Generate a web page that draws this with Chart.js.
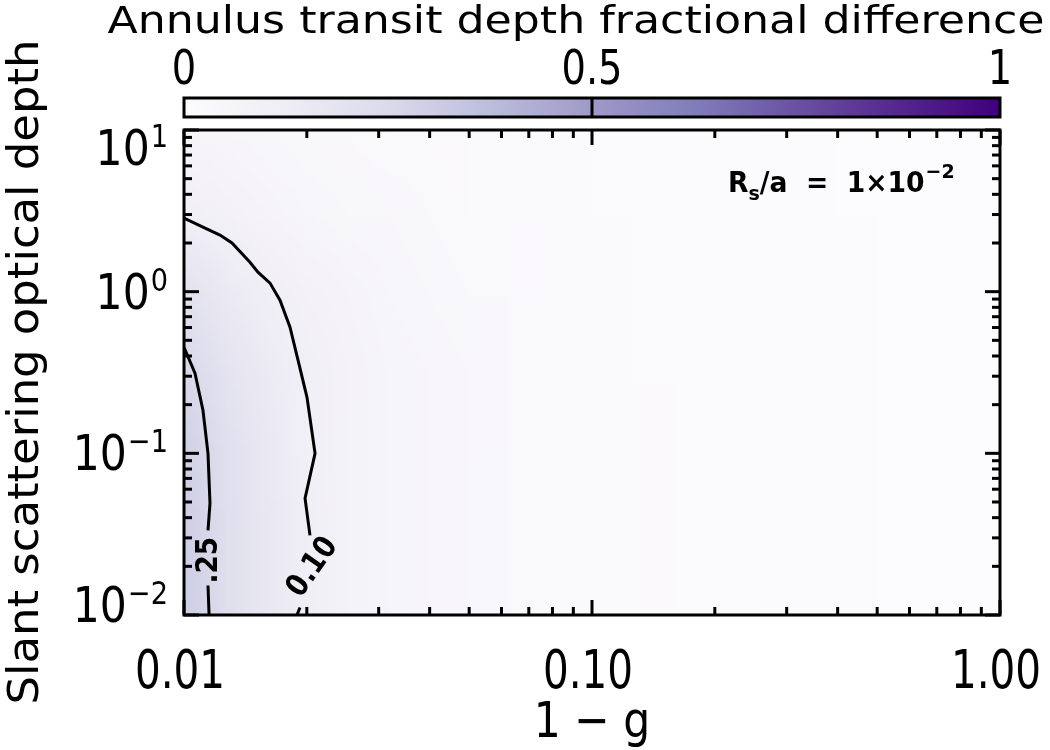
<!DOCTYPE html>
<html>
<head>
<meta charset="utf-8">
<script src="https://cdn.jsdelivr.net/npm/chart.js@4"></script>
<style>
  html, body { margin: 0; padding: 0; background: #fff; }
</style>
</head>
<body>
<canvas id="chart" width="1050" height="750"></canvas>
<script>
// grid of the shaded field (x = 1 - g, y = slant scattering optical depth)
const heatX = [0.01, 0.0126, 0.0158, 0.02, 0.0251, 0.0316, 0.0398, 0.0501, 0.0631, 0.0794, 0.1,
  0.126, 0.158, 0.2, 0.251, 0.316, 0.398, 0.501, 0.631, 0.794, 1.0]
const heatY = [0.01, 0.0316, 0.1, 0.316, 1, 3.16, 10]
// one row per heatY value, bottom to top
const heatZ = [
  [0.30, 0.22, 0.16, 0.105, 0.075, 0.056, 0.043, 0.034, 0.027, 0.021, 0.017, 0.014, 0.011, 0.009, 0.007, 0.006, 0.005, 0.004, 0.003, 0.003, 0.002],
  [0.30, 0.22, 0.16, 0.104, 0.075, 0.056, 0.043, 0.034, 0.027, 0.021, 0.017, 0.014, 0.011, 0.009, 0.007, 0.006, 0.005, 0.004, 0.003, 0.003, 0.002],
  [0.29, 0.215, 0.155, 0.10, 0.073, 0.055, 0.042, 0.033, 0.026, 0.021, 0.017, 0.014, 0.011, 0.009, 0.007, 0.006, 0.005, 0.004, 0.003, 0.003, 0.002],
  [0.26, 0.19, 0.14, 0.095, 0.07, 0.053, 0.041, 0.032, 0.026, 0.021, 0.017, 0.013, 0.011, 0.009, 0.007, 0.006, 0.005, 0.004, 0.003, 0.003, 0.002],
  [0.20, 0.15, 0.105, 0.08, 0.06, 0.046, 0.036, 0.029, 0.023, 0.019, 0.015, 0.012, 0.010, 0.008, 0.007, 0.006, 0.005, 0.004, 0.003, 0.003, 0.002],
  [0.095, 0.076, 0.06, 0.048, 0.04, 0.033, 0.027, 0.022, 0.018, 0.015, 0.012, 0.010, 0.008, 0.007, 0.006, 0.005, 0.004, 0.003, 0.003, 0.002, 0.002],
  [0.05, 0.042, 0.035, 0.029, 0.024, 0.02, 0.017, 0.014, 0.012, 0.010, 0.008, 0.007, 0.006, 0.005, 0.004, 0.003, 0.003, 0.002, 0.002, 0.002, 0.001],
]

// contour lines, null = gap left for the label
const contour10X = [0.01, 0.01113, 0.01225, 0.01311, 0.01451, 0.01518, 0.01625, 0.01719, 0.01819, 0.01903, 0.02002, 0.02095, 0.0198, 0.02036, null, 0.01924, 0.01892]
const contour10Y = [2.85, 2.51, 2.24, 2.00, 1.52, 1.32, 1.13, 0.886, 0.603, 0.377, 0.222, 0.100, 0.0527, 0.0311, null, 0.01113, 0.0100]
const contour25X = [0.01, 0.01064, 0.01113, 0.01145, 0.01158, 0.01145, null, 0.01145, 0.01152]
const contour25Y = [0.453, 0.313, 0.1846, 0.1, 0.049, 0.0334, null, 0.01523, 0.0100]
const contourLabels = [
  {text: ".25", x: 0.01152, y: 0.0218, angle: -90},
  {text: "0.10", x: 0.0207, y: 0.0197, angle: -55},
]

const xTicks = [0.01, 0.1, 1]
const xTickLabels = ["0.01", "0.10", "1.00"]
const yTicks = [0.01, 0.1, 1, 10]
const yTickExps = ["\u22122", "\u22121", "0", "1"]
const barTicks = [0, 0.5, 1]
const barTickLabels = ["0", "0.5", "1"]

// Purples colour table
const PURPLES = [
  [252, 251, 253], [239, 237, 245], [218, 218, 235], [188, 189, 220], [158, 154, 200],
  [128, 125, 186], [106, 81, 163], [84, 39, 143], [63, 0, 125],
]

function purples(v) {
  const t = Math.max(0, Math.min(1, v)) * (PURPLES.length - 1)
  const i = Math.min(Math.floor(t), PURPLES.length - 2)
  const f = t - i
  return PURPLES[i].map((c, k) => Math.round(c + (PURPLES[i + 1][k] - c) * f))
}

const FONT = '"DejaVu Sans", "Liberation Sans", sans-serif'

function drawText(ctx, str, x, y, size, opts = {}) {
  ctx.save()
  ctx.font = (opts.bold ? "bold " : "") + size + "px " + FONT
  const w = ctx.measureText(str).width
  const sx = opts.width ? opts.width / w : (opts.sx || 1)
  ctx.translate(x, y)
  if (opts.angle) ctx.rotate(opts.angle * Math.PI / 180)
  ctx.scale(sx, 1)
  ctx.textAlign = opts.align || "left"
  ctx.textBaseline = opts.baseline || "alphabetic"
  ctx.fillStyle = "#000"
  ctx.fillText(str, 0, 0)
  ctx.restore()
  return w * sx
}

function textWidth(ctx, str, size, sx, bold) {
  ctx.font = (bold ? "bold " : "") + size + "px " + FONT
  return ctx.measureText(str).width * sx
}

const heatmapPlugin = {
  id: "heatmap",
  beforeDatasetsDraw(chart) {
    const {ctx, chartArea: a, scales: {x, y}} = chart
    const nx = heatX.length, ny = heatY.length
    const off = document.createElement("canvas")
    off.width = nx
    off.height = ny
    const octx = off.getContext("2d")
    const img = octx.createImageData(nx, ny)
    for (let j = 0; j < ny; j++) {
      for (let i = 0; i < nx; i++) {
        const c = purples(heatZ[j][i])
        const p = ((ny - 1 - j) * nx + i) * 4
        img.data[p] = c[0]
        img.data[p + 1] = c[1]
        img.data[p + 2] = c[2]
        img.data[p + 3] = 255
      }
    }
    octx.putImageData(img, 0, 0)
    const x0 = x.getPixelForValue(heatX[0]), x1 = x.getPixelForValue(heatX[nx - 1])
    const yb = y.getPixelForValue(heatY[0]), yt = y.getPixelForValue(heatY[ny - 1])
    const dx = (x1 - x0) / (nx - 1), dy = (yb - yt) / (ny - 1)
    ctx.save()
    ctx.beginPath()
    ctx.rect(a.left, a.top, a.right - a.left, a.bottom - a.top)
    ctx.clip()
    ctx.imageSmoothingEnabled = true
    ctx.imageSmoothingQuality = "low"
    ctx.drawImage(off, x0 - dx / 2, yt - dy / 2, x1 - x0 + dx, yb - yt + dy)
    ctx.restore()
  },
}

const framePlugin = {
  id: "frame",
  afterDatasetsDraw(chart) {
    const {ctx, chartArea: a, scales: {x, y}} = chart
    ctx.save()
    ctx.strokeStyle = "#000"
    ctx.lineWidth = 3
    ctx.lineCap = "butt"

    // ticks on all four sides, pointing inwards
    const tick = (x1, y1, x2, y2) => { ctx.beginPath(); ctx.moveTo(x1, y1); ctx.lineTo(x2, y2); ctx.stroke() }
    for (let d = -2; d <= 0; d++) {
      for (let k = 1; k <= 9; k++) {
        const v = k * Math.pow(10, d)
        if (v < x.min * 0.999 || v > x.max * 1.001) continue
        const px = x.getPixelForValue(v)
        const len = k === 1 ? 15 : 8
        tick(px, a.bottom, px, a.bottom - len)
        tick(px, a.top, px, a.top + len)
      }
    }
    for (let d = -2; d <= 1; d++) {
      for (let k = 1; k <= 9; k++) {
        const v = k * Math.pow(10, d)
        if (v < y.min * 0.999 || v > y.max * 1.001) continue
        const py = y.getPixelForValue(v)
        const len = k === 1 ? 15 : 8
        tick(a.left, py, a.left + len, py)
        tick(a.right, py, a.right - len, py)
      }
    }
    ctx.strokeRect(a.left, a.top, a.right - a.left, a.bottom - a.top)

    // x tick labels
    xTicks.forEach((v, i) => {
      drawText(ctx, xTickLabels[i], x.getPixelForValue(v) - 4, a.bottom + 73, 54, {sx: 0.75, align: "center"})
    })
    // y tick labels, 10 with an exponent
    yTicks.forEach((v, i) => {
      const py = Math.max(a.top + 18, Math.min(a.bottom - 10, y.getPixelForValue(v)))
      const base = py + 17
      const ew = textWidth(ctx, yTickExps[i], 32, 0.85)
      const right = a.left - 16
      drawText(ctx, yTickExps[i], right - ew, base - 18, 32, {sx: 0.85})
      drawText(ctx, "10", right - ew - 1, base, 50, {sx: 0.85, align: "right"})
    })
    // axis titles
    drawText(ctx, "1 \u2212 g", (a.left + a.right) / 2, 737, 50, {sx: 0.85, align: "center"})
    drawText(ctx, "Slant scattering optical depth", 38, 372, 42, {width: 665, align: "center", angle: -90})

    // contour labels
    contourLabels.forEach(l => {
      drawText(ctx, l.text, x.getPixelForValue(l.x), y.getPixelForValue(l.y), 31,
        {bold: true, sx: 0.85, align: "center", baseline: "middle", angle: l.angle})
    })

    // annotation R_s/a = 1x10^-2
    let ax = a.right - 272
    const ab = a.top + 62
    ax += drawText(ctx, "R", ax, ab, 28, {bold: true, sx: 0.95})
    ax += drawText(ctx, "s", ax, ab + 8, 20, {bold: true, sx: 0.95})
    ax += drawText(ctx, "/a  =  1\u00d710", ax, ab, 28, {bold: true, sx: 0.95})
    drawText(ctx, "\u22122", ax + 1, ab - 14, 20, {bold: true, sx: 0.95})

    // colour bar
    const cbTop = a.top - 32, cbH = 19
    const grad = ctx.createLinearGradient(a.left, 0, a.right, 0)
    PURPLES.forEach((c, i) => grad.addColorStop(i / (PURPLES.length - 1), `rgb(${c[0]},${c[1]},${c[2]})`))
    ctx.fillStyle = grad
    ctx.fillRect(a.left, cbTop, a.right - a.left, cbH)
    ctx.strokeRect(a.left, cbTop, a.right - a.left, cbH)
    barTicks.forEach((v, i) => {
      const px = a.left + v * (a.right - a.left)
      if (v > 0 && v < 1) tick(px, cbTop, px, cbTop + cbH)
      drawText(ctx, barTickLabels[i], px, cbTop - 14, 48, {sx: 0.8, align: "center"})
    })
    drawText(ctx, "Annulus transit depth fractional difference", 576, 33, 37, {width: 937, align: "center"})
    ctx.restore()
  },
}

const toPoints = (xs, ys) => xs.map((v, i) => ({x: v, y: ys[i]}))

const chart = new Chart(document.getElementById("chart"), {
  type: "scatter",
  data: {
    datasets: [
      {label: "0.10", data: toPoints(contour10X, contour10Y), showLine: true, spanGaps: false,
        borderColor: "#000", borderWidth: 3, pointRadius: 0, tension: 0},
      {label: "0.25", data: toPoints(contour25X, contour25Y), showLine: true, spanGaps: false,
        borderColor: "#000", borderWidth: 3, pointRadius: 0, tension: 0},
    ],
  },
  options: {
    responsive: false,
    animation: false,
    devicePixelRatio: 1,
    layout: {padding: {left: 184, right: 50, top: 130, bottom: 135}},
    plugins: {legend: {display: false}, tooltip: {enabled: false}},
    scales: {
      x: {type: "logarithmic", min: 0.01, max: 1, display: false},
      y: {type: "logarithmic", min: 0.01, max: 10, display: false},
    },
  },
  plugins: [heatmapPlugin, framePlugin],
})
</script>
</body>
</html>
